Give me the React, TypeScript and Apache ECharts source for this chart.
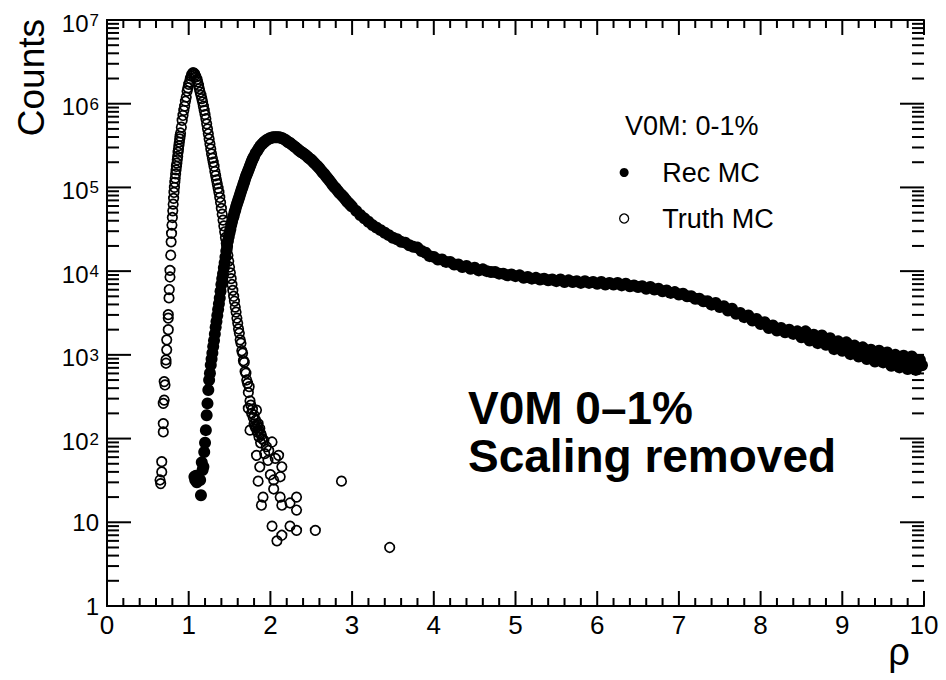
import React, { useEffect, useRef } from "react";
import * as echarts from "echarts";

const FONT = "'Liberation Sans', Arial, Helvetica, sans-serif";

// axis ranges and tick values
const xRange = [0, 10];
const yRange = [1, 1e7];
const xMajorTicks = [0, 1, 2, 3, 4, 5, 6, 7, 8, 9, 10];
const xMinorSteps = [0.2, 0.4, 0.6, 0.8];
const yDecades = [1, 10, 100, 1e3, 1e4, 1e5, 1e6, 1e7];
const yMinorMultipliers = [2, 3, 4, 5, 6, 7, 8, 9];

const legendNames = ["Rec MC", "Truth MC"];
const legendHeader = "V0M: 0-1%";
const bigText = ["V0M 0\u20131%", "Scaling removed"];

// Rec MC (filled circles): [rho, counts]
const recMC: [number, number][] = [
  [1.07, 35], [1.08, 32], [1.09, 36], [1.10, 30], [1.12, 33], [1.14, 32], [1.15, 21], [1.16, 52],
  [1.17, 42], [1.18, 46], [1.19, 69], [1.20, 89], [1.21, 126], [1.22, 190], [1.23, 263], [1.24, 380],
  [1.25, 501], [1.26, 603], [1.27, 759], [1.28, 891], [1.29, 1050], [1.30, 1260], [1.31, 1480],
  [1.32, 1780], [1.33, 2140], [1.34, 2510], [1.35, 2950], [1.36, 3470], [1.37, 4070], [1.38, 4790],
  [1.39, 5750], [1.40, 6920], [1.41, 8130], [1.42, 9330], [1.43, 11000], [1.44, 12600], [1.45, 14800],
  [1.46, 17400], [1.47, 20000], [1.48, 22900], [1.49, 25700], [1.50, 28800], [1.51, 31600],
  [1.52, 35500], [1.53, 38900], [1.54, 42700], [1.55, 45700], [1.56, 50100], [1.57, 53700],
  [1.58, 58900], [1.59, 63100], [1.60, 67600], [1.61, 72400], [1.62, 77600], [1.63, 83200],
  [1.64, 89100], [1.65, 95500], [1.66, 102000], [1.67, 110000], [1.68, 117000], [1.69, 126000],
  [1.70, 135000], [1.71, 143000], [1.72, 151000], [1.73, 160000], [1.74, 170000], [1.75, 180000],
  [1.76, 191000], [1.77, 202000], [1.78, 214000], [1.79, 224000], [1.80, 234000], [1.82, 257000],
  [1.84, 275000], [1.86, 295000], [1.88, 316000], [1.90, 331000], [1.92, 347000], [1.94, 359000],
  [1.96, 372000], [1.98, 380000], [2.00, 389000], [2.02, 394000], [2.04, 398000], [2.06, 398000],
  [2.08, 398000], [2.10, 398000], [2.12, 394000], [2.14, 389000], [2.16, 380000], [2.18, 372000],
  [2.20, 359000], [2.22, 347000], [2.24, 339000], [2.26, 327000], [2.28, 316000], [2.30, 305000],
  [2.32, 295000], [2.34, 282000], [2.36, 272000], [2.38, 263000], [2.40, 257000], [2.42, 248000],
  [2.44, 240000], [2.46, 229000], [2.48, 221000], [2.50, 214000], [2.52, 204000], [2.54, 195000],
  [2.56, 186000], [2.58, 178000], [2.60, 170000], [2.62, 160000], [2.64, 151000], [2.66, 145000],
  [2.68, 136000], [2.70, 129000], [2.72, 122000], [2.74, 115000], [2.76, 108000], [2.78, 102000],
  [2.80, 97700], [2.82, 92300], [2.84, 87100], [2.86, 83200], [2.88, 79400], [2.90, 75900],
  [2.92, 71600], [2.94, 67600], [2.96, 64600], [2.98, 61700], [3.00, 58900], [3.05, 52500],
  [3.10, 46800], [3.15, 42700], [3.20, 38900], [3.25, 35500], [3.30, 33100], [3.35, 30900],
  [3.40, 28800], [3.45, 26900], [3.50, 25100], [3.55, 24000], [3.60, 22400], [3.65, 21900],
  [3.70, 20400], [3.75, 19500], [3.80, 19100], [3.85, 17400], [3.90, 16600], [3.95, 15100],
  [4.00, 14800], [4.05, 13800], [4.10, 13800], [4.15, 12900], [4.20, 12900], [4.25, 12000],
  [4.30, 12000], [4.35, 11200], [4.40, 11500], [4.45, 10700], [4.50, 11000], [4.55, 10200],
  [4.60, 10500], [4.65, 10000], [4.70, 9770], [4.75, 9770], [4.80, 9330], [4.85, 9330],
  [4.90, 8910], [4.95, 9120], [5.00, 8710], [5.05, 8910], [5.10, 8320], [5.15, 8510], [5.20, 8130],
  [5.25, 8320], [5.30, 7940], [5.35, 8130], [5.40, 7760], [5.45, 7940], [5.50, 7590], [5.55, 7940],
  [5.60, 7410], [5.65, 7760], [5.70, 7410], [5.75, 7590], [5.80, 7240], [5.85, 7590], [5.90, 7240],
  [5.95, 7410], [6.00, 7080], [6.05, 7410], [6.10, 6920], [6.15, 7240], [6.20, 6920], [6.25, 7240],
  [6.30, 6760], [6.35, 7080], [6.40, 6610], [6.45, 6760], [6.50, 6460], [6.55, 6610], [6.60, 6170],
  [6.65, 6460], [6.70, 6030], [6.75, 6170], [6.80, 5750], [6.85, 5890], [6.90, 5500], [6.95, 5620],
  [7.00, 5250], [7.05, 5370], [7.10, 5010], [7.15, 5010], [7.20, 4680], [7.25, 4680], [7.30, 4370],
  [7.35, 4370], [7.40, 3980], [7.45, 4170], [7.50, 3720], [7.55, 3800], [7.60, 3390], [7.65, 3550],
  [7.70, 3090], [7.75, 3160], [7.80, 2820], [7.85, 2950], [7.90, 2570], [7.95, 2690], [8.00, 2340],
  [8.05, 2450], [8.10, 2090], [8.15, 2240], [8.20, 1950], [8.25, 2090], [8.30, 1860], [8.35, 2000],
  [8.40, 1780], [8.45, 1910], [8.50, 1620], [8.55, 1910], [8.60, 1480], [8.65, 1740], [8.70, 1380],
  [8.75, 1700], [8.80, 1320], [8.85, 1580], [8.90, 1170], [8.95, 1450], [9.00, 1120], [9.05, 1410],
  [9.10, 1020], [9.15, 1290], [9.20, 955], [9.25, 1230], [9.30, 891], [9.35, 1150], [9.40, 832],
  [9.45, 1120], [9.50, 813], [9.55, 1070], [9.60, 741], [9.65, 1000], [9.70, 708], [9.75, 977],
  [9.80, 676], [9.85, 955], [9.90, 661], [9.95, 871],
  // band centre at the high-rho end
  [8.475, 1800], [8.525, 1760], [8.575, 1700], [8.625, 1640], [8.675, 1580], [8.725, 1530],
  [8.775, 1480], [8.825, 1430], [8.875, 1380], [8.925, 1330], [8.975, 1290], [9.025, 1240],
  [9.075, 1200], [9.125, 1160], [9.175, 1120], [9.225, 1080], [9.275, 1060], [9.325, 1020],
  [9.375, 989], [9.425, 966], [9.475, 944], [9.525, 923], [9.575, 902], [9.625, 881],
  [9.675, 861], [9.725, 841], [9.775, 822], [9.825, 804], [9.875, 785], [9.925, 767], [9.975, 750],
];

// Truth MC (open circles): [rho, counts]
const truthMC: [number, number][] = [
  [0.649, 32], [0.657, 29], [0.67, 40], [0.67, 53], [0.689, 120], [0.689, 151], [0.689, 263],
  [0.70, 288], [0.71, 437], [0.70, 479], [0.722, 794], [0.722, 871], [0.731, 1150], [0.731, 1510],
  [0.75, 2000], [0.75, 2750], [0.75, 3020], [0.759, 4790], [0.762, 6030], [0.771, 8510],
  [0.771, 10200], [0.78, 15500], [0.785, 22400], [0.79, 28200], [0.795, 35500], [0.80, 43700],
  [0.805, 52500], [0.81, 63100], [0.815, 74100], [0.82, 87100], [0.825, 100000], [0.83, 115000],
  [0.835, 129000], [0.84, 145000], [0.845, 162000], [0.85, 178000], [0.855, 195000], [0.86, 214000],
  [0.865, 234000], [0.87, 263000], [0.875, 288000], [0.88, 316000], [0.885, 347000], [0.89, 380000],
  [0.895, 407000], [0.90, 447000], [0.91, 525000], [0.92, 631000], [0.93, 724000], [0.94, 832000],
  [0.95, 933000], [0.96, 1070000], [0.97, 1200000], [0.98, 1410000], [0.99, 1550000],
  [1.00, 1700000], [1.01, 1820000], [1.02, 2000000], [1.03, 2140000], [1.04, 2240000],
  [1.05, 2340000], [1.06, 2340000], [1.07, 2290000], [1.08, 2190000], [1.09, 2090000],
  [1.10, 1950000], [1.11, 1820000], [1.12, 1660000], [1.13, 1510000], [1.14, 1380000],
  [1.15, 1260000], [1.16, 1150000], [1.17, 1050000], [1.18, 933000], [1.19, 832000], [1.20, 741000],
  [1.21, 661000], [1.22, 575000], [1.23, 501000], [1.24, 437000], [1.25, 380000], [1.26, 331000],
  [1.27, 288000], [1.28, 251000], [1.29, 224000], [1.30, 200000], [1.31, 178000], [1.32, 155000],
  [1.33, 138000], [1.34, 123000], [1.35, 110000], [1.36, 97700], [1.37, 87100], [1.38, 75900],
  [1.39, 66100], [1.40, 56200], [1.41, 47900], [1.42, 40700], [1.43, 34700], [1.44, 29500],
  [1.45, 25100], [1.46, 21400], [1.47, 18200], [1.48, 15500], [1.49, 13200], [1.50, 11200],
  [1.51, 9550], [1.52, 8130], [1.53, 6920], [1.54, 5890], [1.55, 5010], [1.56, 4370], [1.57, 3720],
  [1.58, 3240], [1.59, 2750], [1.60, 2400], [1.61, 2040], [1.62, 1820], [1.63, 1510], [1.64, 1380],
  [1.65, 1120], [1.66, 1050], [1.67, 851], [1.68, 813], [1.69, 631], [1.70, 603], [1.71, 501],
  [1.72, 457], [1.73, 355], [1.74, 417], [1.75, 282], [1.73, 229], [1.76, 251], [1.77, 200],
  [1.78, 224], [1.79, 178], [1.80, 191], [1.81, 141], [1.82, 166], [1.83, 219], [1.84, 120],
  [1.85, 151], [1.75, 126], [1.86, 105], [1.87, 132], [1.88, 89], [1.89, 110], [1.80, 150],
  [1.82, 135], [1.84, 145], [1.86, 125], [1.88, 115], [1.90, 100], [1.92, 95], [1.95, 80],
  [1.98, 72], [2.06, 58], [2.02, 91], [1.83, 63], [1.93, 66], [2.10, 63], [1.97, 55], [1.87, 46],
  [2.14, 46], [2.00, 37], [2.12, 35], [1.85, 31], [2.04, 32], [2.87, 31], [2.04, 25], [1.91, 20],
  [2.12, 20], [2.32, 20], [1.89, 16], [2.14, 16], [2.24, 17], [2.32, 14], [2.02, 9], [2.24, 9],
  [2.32, 8], [2.55, 8], [2.14, 7], [2.08, 6], [3.46, 5],
];

const axisColor = "#000";
const TICK = { xMajor: 15, xMinor: 8, yMajor: 24, yMinor: 12 };

function yLabel(v: number): string {
  const e = Math.round(Math.log10(v));
  if (e === 0) return "1";
  if (e === 1) return "10";
  return `{b|10}{s|${e}}`;
}

export default function App() {
  const ref = useRef<HTMLDivElement>(null);
  useEffect(() => {
    const chart = echarts.init(ref.current!, null, { renderer: "svg" });

    // tick items for the frame: [x, y, length]
    const xTickData: number[][] = [];
    xMajorTicks.forEach((v) => xTickData.push([v, yRange[0], TICK.xMajor]));
    xMajorTicks.slice(0, -1).forEach((v) =>
      xMinorSteps.forEach((s) => xTickData.push([v + s, yRange[0], TICK.xMinor]))
    );
    const yTickData: number[][] = [];
    yDecades.forEach((d) => yTickData.push([xRange[0], d, TICK.yMajor]));
    yDecades.slice(0, -1).forEach((d) =>
      yMinorMultipliers.forEach((m) => yTickData.push([xRange[0], d * m, TICK.yMinor]))
    );
    const tickStyle = { stroke: axisColor, lineWidth: 2 };

    const xAxisBase = {
      type: "value",
      min: xRange[0],
      max: xRange[1],
      interval: 1,
      axisLine: { show: true, lineStyle: { color: axisColor, width: 2 } },
      axisTick: { show: false },
      minorTick: { show: false },
      splitLine: { show: false },
      minorSplitLine: { show: false },
    };
    const yAxisBase = {
      type: "log",
      logBase: 10,
      min: yRange[0],
      max: yRange[1],
      interval: 1,
      axisLine: { show: true, lineStyle: { color: axisColor, width: 2 } },
      axisTick: { show: false },
      minorTick: { show: false },
      splitLine: { show: false },
      minorSplitLine: { show: false },
    };
    chart.setOption({
      animation: false,
      backgroundColor: "#fff",
      grid: { left: 107, right: 22, top: 20, bottom: 74, containLabel: false },
      xAxis: [
        {
          ...xAxisBase,
          position: "bottom",
          axisLabel: { show: true, fontSize: 26, color: "#000", fontFamily: FONT, margin: 6, lineHeight: 26 },
        },
        { ...xAxisBase, position: "top", axisLabel: { show: false } },
      ],
      yAxis: [
        {
          ...yAxisBase,
          position: "left",
          axisLabel: {
            show: true,
            fontSize: 24,
            color: "#000",
            fontFamily: FONT,
            margin: 8,
            formatter: yLabel,
            rich: {
              b: { fontSize: 24, fontFamily: FONT, color: "#000", lineHeight: 24, padding: [6, 0, 0, 0] },
              s: { fontSize: 17, fontFamily: FONT, color: "#000", lineHeight: 17, padding: [4, 0, 0, 1], verticalAlign: "top" },
            },
          },
        },
        { ...yAxisBase, position: "right", axisLabel: { show: false } },
      ],
      legend: {
        data: [
          { name: legendNames[0], itemStyle: { color: "#000", borderWidth: 0, opacity: 1 } },
          { name: legendNames[1], itemStyle: { color: "#fff", borderColor: "#000", borderWidth: 1.3, opacity: 1 } },
        ],
        orient: "vertical",
        left: 619,
        top: 159,
        padding: 0,
        itemWidth: 66,
        itemHeight: 9,
        itemGap: 19,
        icon: "circle",
        textStyle: { fontSize: 27, fontFamily: FONT, color: "#000", lineHeight: 24 },
      },
      graphic: [
        {
          type: "text",
          x: 625,
          y: 126,
          style: { text: legendHeader, fontSize: 27, fontFamily: FONT, fill: "#000", align: "left", textAlign: "left", verticalAlign: "middle", textVerticalAlign: "middle" },
        },
        {
          type: "text",
          x: 468,
          y: 408,
          style: { text: bigText[0], fontSize: 46, fontWeight: "bold", fontFamily: FONT, fill: "#000", align: "left", textAlign: "left", verticalAlign: "middle", textVerticalAlign: "middle" },
        },
        {
          type: "text",
          x: 468,
          y: 456,
          style: { text: bigText[1], fontSize: 46, fontWeight: "bold", fontFamily: FONT, fill: "#000", align: "left", textAlign: "left", verticalAlign: "middle", textVerticalAlign: "middle" },
        },
        {
          type: "text",
          x: 31,
          y: 19,
          rotation: Math.PI / 2,
          style: { text: "Counts", fontSize: 37, fontFamily: FONT, fill: "#000", align: "right", textAlign: "right", verticalAlign: "middle", textVerticalAlign: "middle" },
        },
        {
          type: "text",
          x: 899,
          y: 652,
          style: { text: "\u03c1", fontSize: 38, lineHeight: 20, fontFamily: FONT, fill: "#000", align: "center", textAlign: "center", verticalAlign: "middle", textVerticalAlign: "middle" },
        },
      ],
      series: [
        {
          name: legendNames[0],
          type: "scatter",
          xAxisIndex: 0,
          yAxisIndex: 0,
          data: recMC,
          symbol: "circle",
          symbolSize: 12,
          itemStyle: { color: "#000", opacity: 1 },
          emphasis: { disabled: true },
          silent: true,
        },
        {
          name: legendNames[1],
          type: "scatter",
          xAxisIndex: 0,
          yAxisIndex: 0,
          data: truthMC,
          symbol: "circle",
          symbolSize: 9.5,
          itemStyle: { color: "rgba(0,0,0,0)", borderColor: "#000", borderWidth: 1.7, opacity: 1 },
          emphasis: { disabled: true },
          silent: true,
        },
        {
          name: "xTicks",
          type: "custom",
          xAxisIndex: 0,
          yAxisIndex: 0,
          silent: true,
          clip: false,
          data: xTickData,
          renderItem: (_params: any, api: any) => {
            const v = api.value(0);
            const len = api.value(2);
            const b = api.coord([v, yRange[0]]);
            const t = api.coord([v, yRange[1]]);
            return {
              type: "group",
              children: [
                { type: "line", shape: { x1: b[0], y1: b[1], x2: b[0], y2: b[1] - len }, style: tickStyle },
                { type: "line", shape: { x1: t[0], y1: t[1], x2: t[0], y2: t[1] + len }, style: tickStyle },
              ],
            };
          },
        },
        {
          name: "yTicks",
          type: "custom",
          xAxisIndex: 0,
          yAxisIndex: 0,
          silent: true,
          clip: false,
          data: yTickData,
          renderItem: (_params: any, api: any) => {
            const v = api.value(1);
            const len = api.value(2);
            const l = api.coord([xRange[0], v]);
            const r = api.coord([xRange[1], v]);
            return {
              type: "group",
              children: [
                { type: "line", shape: { x1: l[0], y1: l[1], x2: l[0] + len, y2: l[1] }, style: tickStyle },
                { type: "line", shape: { x1: r[0], y1: r[1], x2: r[0] - len, y2: r[1] }, style: tickStyle },
              ],
            };
          },
        },
      ],
    });
    return () => chart.dispose();
  }, []);
  return <div ref={ref} style={{ position: "fixed", left: 0, top: 0, width: 946, height: 680 }} />;
}
